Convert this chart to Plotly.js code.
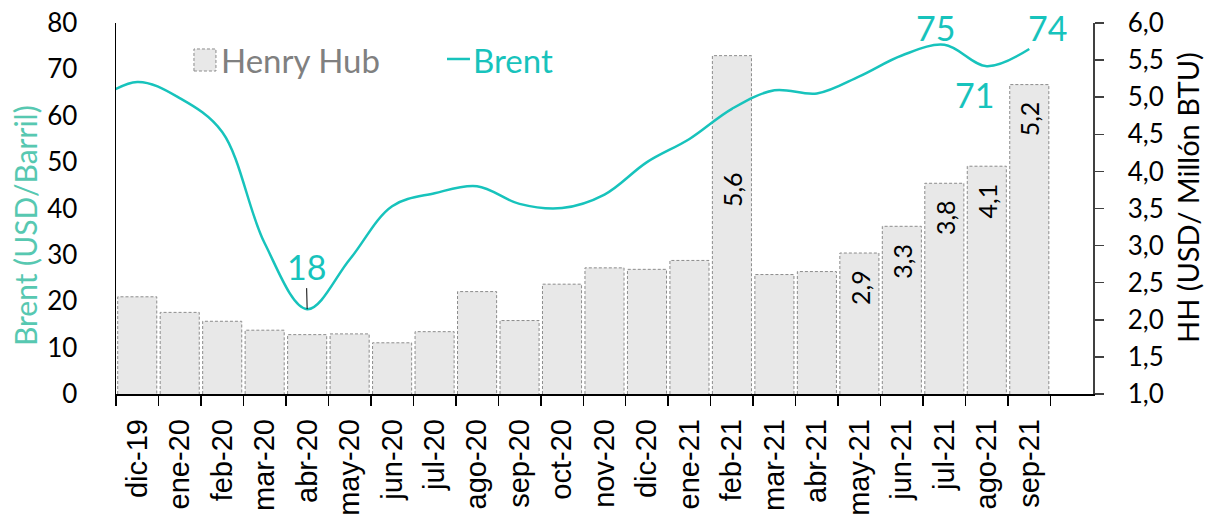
<!DOCTYPE html>
<html>
<head>
<meta charset="utf-8">
<script src="https://cdn.plot.ly/plotly-3.0.1.min.js"></script>
<style>
html,body{margin:0;padding:0;background:#fff;}
#chart{width:1212px;height:515px;}
</style>
</head>
<body>
<div id="chart"></div>
<script>
// ---- data ----
const months = ["dic-19","ene-20","feb-20","mar-20","abr-20","may-20","jun-20","jul-20","ago-20","sep-20","oct-20","nov-20","dic-20","ene-21","feb-21","mar-21","abr-21","may-21","jun-21","jul-21","ago-21","sep-21"];
const henryHub = [2.31,2.10,1.98,1.86,1.80,1.81,1.69,1.84,2.38,1.99,2.48,2.70,2.68,2.80,5.56,2.61,2.65,2.90,3.26,3.84,4.07,5.17];
// Brent monthly average; first value (nov-19) lies just left of the visible axis
const brentMonthsOffset = -1;
const brent = [63.0,67.3,63.8,56.5,32.5,18.3,29.0,40.5,43.3,44.8,41.0,40.1,43.0,50.0,55.0,61.5,65.5,64.8,68.5,73.0,75.3,70.7,74.4];
const hhLabelled = ["feb-21","may-21","jun-21","jul-21","ago-21","sep-21"];
const brentLabelled = ["abr-20","jul-21","ago-21","sep-21"];

// ---- styles ----
const TEAL = "#17C3BC";
const TITLE_TEAL = "#57C8B1";
const CAL = "Lato, 'Open Sans', sans-serif";
const ARIAL = "'Liberation Sans', Arial, sans-serif";

const idx = months.map((m,i)=>i);
const brentX = brent.map((v,i)=>i+brentMonthsOffset);
const barW = 0.92;

// dashed outlines of bars built from data
const ox=[], oy=[];
henryHub.forEach((v,i)=>{
  ox.push(i-barW/2,i-barW/2,i+barW/2,i+barW/2,null);
  oy.push(1,v,v,1,null);
});

// HH on primary (right side) axis "y", Brent on overlaying (left side) axis "y2" so the line draws on top
const traces = [
  {type:"bar", x:idx, y:henryHub, yaxis:"y", width:barW,
   marker:{color:"#E8E8E8", line:{width:0}}, hoverinfo:"skip", showlegend:false},
  {type:"scatter", mode:"lines", x:ox, y:oy, yaxis:"y",
   line:{color:"#8C8C8C", width:1, dash:"3px,2px"}, hoverinfo:"skip", showlegend:false},
  {type:"scatter", mode:"lines", x:brentX, y:brent, yaxis:"y2",
   line:{color:TEAL, width:2.5, shape:"spline", smoothing:1}, hoverinfo:"skip", showlegend:false}
];

const annotations = [];
// bar value labels
hhLabelled.forEach(m=>{
  const i = months.indexOf(m);
  annotations.push({xref:"x", yref:"y", x:i, y:henryHub[i], text:henryHub[i].toFixed(1).replace(".",","),
    textangle:-90, showarrow:false, yanchor:"top", xanchor:"center",
    yshift: (m==="feb-21") ? -114 : -15,
    font:{family:CAL, size:25, color:"#000"}});
});
// Brent labels
const brentShift = {"abr-20":[0,0],"jul-21":[-9,17],"ago-21":[-12,-28],"sep-21":[18,21]};
brentLabelled.forEach(m=>{
  const i = months.indexOf(m);
  const v = brent[i - brentMonthsOffset];
  const a = {xref:"x", yref:"y2", x:i, y:v, text:String(Math.round(v)),
    font:{family:CAL, size:34, color:TEAL}};
  if (m==="abr-20") {
    Object.assign(a,{showarrow:true, ax:-1, ay:-43, arrowhead:0, arrowwidth:1, arrowcolor:"#000", standoff:0});
  } else {
    Object.assign(a,{showarrow:false, xshift:brentShift[m][0], yshift:brentShift[m][1]});
  }
  annotations.push(a);
});
// axis titles
annotations.push({xref:"paper", yref:"paper", x:-0.0931, y:0.4528, text:"Brent (USD/Barril)", textangle:-90,
  showarrow:false, xanchor:"center", yanchor:"middle", font:{family:CAL, size:30, color:TITLE_TEAL}});
annotations.push({xref:"paper", yref:"paper", x:1.0972, y:0.531, text:"HH (USD/ Millón BTU)", textangle:-90,
  showarrow:false, xanchor:"center", yanchor:"middle", font:{family:CAL, size:29, color:"#000"}});
// legend texts
annotations.push({xref:"paper", yref:"paper", x:0.1054, y:0.9003, text:"Henry Hub", showarrow:false,
  xanchor:"left", yanchor:"middle", font:{family:CAL, size:33, color:"#808080"}});
annotations.push({xref:"paper", yref:"paper", x:0.3634, y:0.9003, text:"Brent", showarrow:false,
  xanchor:"left", yanchor:"middle", font:{family:CAL, size:33, color:TEAL}});

const shapes = [
  {type:"rect", xref:"paper", yref:"paper", x0:0.0798, x1:0.1023, y0:0.8706, y1:0.930,
   fillcolor:"#E8E8E8", line:{color:"#8C8C8C", width:1, dash:"3px,2px"}},
  {type:"line", xref:"paper", yref:"paper", x0:0.3388, x1:0.3623, y0:0.903, y1:0.903,
   line:{color:TEAL, width:2.5}}
];

const boundaries = months.map((m,i)=>i-0.5).concat([months.length-0.5]);

const layout = {
  width:1212, height:515,
  margin:{l:116, r:119, t:23, b:121},
  paper_bgcolor:"#fff", plot_bgcolor:"#fff",
  separators:", ",
  showlegend:false,
  xaxis:{range:[-0.5, months.length+0.5], tickmode:"array", tickvals:idx, ticktext:months,
    tickangle:-90, ticks:"", showline:true, linecolor:"#000", linewidth:1.5,
    showgrid:false, zeroline:false, ticklabelstandoff:12,
    tickfont:{family:ARIAL, size:29, color:"#000"},
    minor:{tickmode:"array", tickvals:boundaries, ticks:"outside", ticklen:10, tickcolor:"#000", tickwidth:1.5, showgrid:false}},
  yaxis:{range:[1,6], dtick:0.5, tick0:1, tickformat:".1f", side:"right",
    showline:true, linecolor:"#404040", linewidth:1.5, ticks:"outside", ticklen:9, tickcolor:"#404040", tickwidth:1.5,
    showgrid:false, zeroline:false, ticklabelstandoff:19,
    tickfont:{family:CAL, size:26, color:"#000"}},
  yaxis2:{range:[0,80], dtick:10, tick0:0, overlaying:"y", side:"left", showline:true, linecolor:"#000", linewidth:1.5,
    ticks:"", showgrid:false, zeroline:false, ticklabelstandoff:32,
    tickfont:{family:CAL, size:26, color:"#000"}},
  annotations:annotations,
  shapes:shapes,
  bargap:0.08
};

Plotly.newPlot("chart", traces, layout, {displayModeBar:false, staticPlot:true});
</script>
</body>
</html>
